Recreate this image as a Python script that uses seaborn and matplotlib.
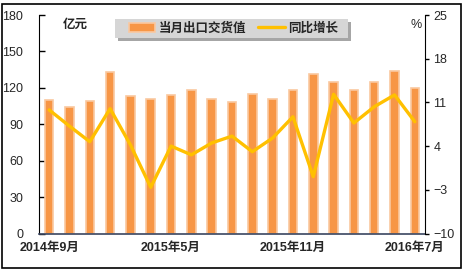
import numpy as np
import pandas as pd
import matplotlib
matplotlib.use('Agg')
import matplotlib.pyplot as plt
import seaborn as sns
from matplotlib.patches import Rectangle, Patch
from matplotlib.lines import Line2D

# ---- data ----
months = ['2014年9月', '2014年10月', '2014年11月', '2014年12月',
          '2015年3月', '2015年4月', '2015年5月', '2015年6月', '2015年7月',
          '2015年8月', '2015年9月', '2015年10月', '2015年11月', '2015年12月',
          '2016年3月', '2016年4月', '2016年5月', '2016年6月', '2016年7月']
export_value = [110, 104, 109, 133, 113, 111, 114, 118, 111, 108,
                115, 111, 118, 131, 125, 118, 125, 134, 120]
yoy_growth = [9.8, 7.2, 4.7, 10.0, 4.2, -2.6, 4.0, 2.6, 4.5, 5.6,
              3.1, 5.3, 8.7, -0.9, 12.3, 7.7, 10.3, 12.2, 7.9]
shown_months = ['2014年9月', '2015年5月', '2015年11月', '2016年7月']
left_ticks = [0, 30, 60, 90, 120, 150, 180]
right_ticks = [-10, -3, 4, 11, 18, 25]
bar_label = '当月出口交货值'
line_label = '同比增长'
unit_left = '亿元'
unit_right = '%'

# ---- style ----
sns.set_style('white')
plt.rcParams['font.family'] = ['Liberation Sans', 'Noto Sans CJK SC', 'DejaVu Sans']

BAR = '#F79646'
BAR_EDGE = '#FAC8A0'
LINE = '#FFC000'
AXC = '#3a4660'

W, H = 463, 277
fig = plt.figure(figsize=(W / 100, H / 100), dpi=100)
ax = fig.add_axes([39 / W, 1 - 233.5 / H, (425 - 39) / W, (233.5 - 15) / H])

df = pd.DataFrame({'month': months, 'value': export_value})
sns.barplot(data=df, x='month', y='value', order=months, color=BAR, saturation=1,
            width=0.42, edgecolor=BAR_EDGE, linewidth=1.2, errorbar=None, ax=ax)
ax.set_xlim(-0.5, len(months) - 0.5)
ax.set_ylim(0, 180)
ax.set_yticks(left_ticks)
ax.set_xlabel('')
ax.set_ylabel('')

ax2 = ax.twinx()
df2 = pd.DataFrame({'pos': np.arange(len(months)), 'growth': yoy_growth})
sns.lineplot(data=df2, x='pos', y='growth', color=LINE, linewidth=2.4, ax=ax2)
ax2.set_ylim(-10, 25)
ax2.set_yticks(right_ticks)
ax2.set_xlim(-0.5, len(months) - 0.5)
ax2.set_ylabel('')
ax2.set_xlabel('')

# x ticks
ax.set_xticks([months.index(m) for m in shown_months])
ax.set_xticklabels(shown_months, fontweight='bold', fontsize=9)
ax.set_xticks(np.arange(-0.5, len(months), 1), minor=True)
ax.tick_params(axis='x', which='major', length=0, pad=6)
ax.tick_params(axis='x', which='minor', length=4, direction='out', color=AXC, width=1)

ax.tick_params(axis='y', direction='in', length=4, width=1, color='black',
               labelsize=9, pad=11.5, left=True)
ax2.tick_params(axis='y', direction='out', length=3, width=1, color='black',
                labelsize=9, pad=3, right=True)

for s in ['top', 'right']:
    ax.spines[s].set_visible(False)
ax.spines['left'].set_color('black')
ax.spines['bottom'].set_color(AXC)
ax.spines['bottom'].set_linewidth(1.2)
for s in ['top', 'left', 'bottom']:
    ax2.spines[s].set_visible(False)
ax2.spines['right'].set_color('black')

# unit labels
fig.text(75 / W, 1 - 25 / H, unit_left, ha='center', va='center',
         fontweight='bold', fontsize=9)
fig.text(416 / W, 1 - 25 / H, unit_right, ha='center', va='center', fontsize=9)

# legend box with shadow
def px_rect(x0, y0, x1, y1, **kw):
    return Rectangle((x0 / W, 1 - y1 / H), (x1 - x0) / W, (y1 - y0) / H,
                     transform=fig.transFigure, **kw)

fig.patches.append(px_rect(118, 22, 351, 41, facecolor='#a6a6a6', edgecolor='none', zorder=1))
fig.patches.append(px_rect(115, 19, 348, 38, facecolor='#d6d6d6', edgecolor='none', zorder=2))

handles = [Patch(facecolor=BAR, edgecolor=BAR_EDGE, linewidth=1.2),
           Line2D([], [], color=LINE, lw=2.4)]
fig.legend(handles, [bar_label, line_label], loc='center left',
           bbox_to_anchor=(129 / W, 1 - 28.5 / H), bbox_transform=fig.transFigure,
           frameon=False, ncol=2, handlelength=2.1, handletextpad=0.25,
           columnspacing=1.0, borderpad=0, borderaxespad=0,
           prop={'weight': 'bold', 'size': 9})

# outer border
fig.patches.append(px_rect(2, 4, 461, 268, fill=False, edgecolor='black', linewidth=1.2, zorder=3))

fig.savefig('out.png', dpi=100)
